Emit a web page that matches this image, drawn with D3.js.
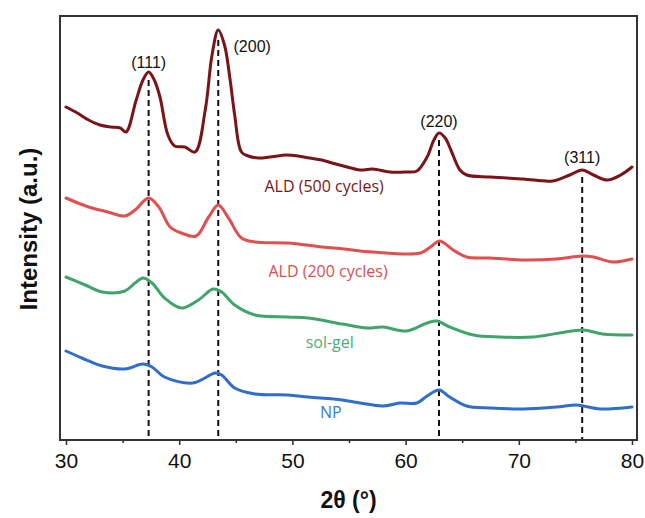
<!DOCTYPE html>
<html>
<head>
<meta charset="utf-8">
<script src="https://cdn.jsdelivr.net/npm/d3@7"></script>
<style>
  body { margin: 0; background: #fff; }
  text { font-family: "Liberation Sans", Arial, sans-serif; }
</style>
</head>
<body>
<div id="grafico"></div>
<script>
// 2θ (deg) / intensity (a.u., offset already included)
const ald500 = [
  [30, 333], [31, 327], [32, 320], [33, 315], [34, 313], [34.8, 312], [35.3, 308],
  [36.2, 340], [36.8, 360], [37.3, 368], [37.8, 360], [38.3, 343], [39.0, 305],
  [39.6, 294], [40.5, 293], [41.4, 288], [42.3, 330], [42.9, 385], [43.45, 410],
  [44.0, 395], [44.5, 360], [44.9, 325], [45.5, 288], [46.1, 284], [47.0, 282],
  [48.0, 283], [49.5, 285], [50.5, 284], [51.5, 282], [52.6, 280], [53.5, 277],
  [54.5, 274], [56, 270], [57.1, 271], [58.6, 268], [60, 268], [61, 269],
  [61.9, 283], [62.5, 300], [62.95, 307], [63.5, 302], [64, 290], [64.8, 270],
  [65.4, 265], [67.5, 263], [70.4, 261], [73, 259], [74.5, 265], [75.6, 270],
  [76.6, 265], [77.8, 260], [79, 265], [80, 273]
];
const ald200 = [
  [30, 242], [32, 233], [33.7, 228], [35.2, 224], [36.1, 230], [37.3, 242],
  [38.2, 233], [39.2, 213], [40.2, 207], [41.5, 204], [42.6, 223], [43.45, 235],
  [44.3, 223], [45.5, 202], [46.7, 198], [49.6, 197], [52.6, 193], [54.6, 191],
  [57.1, 188], [61.3, 187], [62.2, 193], [63.0, 199], [64.2, 190], [65.4, 183],
  [67.5, 182], [70.4, 180], [73.3, 181], [75.6, 184], [76.6, 183], [78.3, 178],
  [80, 181]
];
const solGel = [
  [30, 163], [31.7, 155], [33.2, 148], [35.2, 149], [36.1, 157], [36.8, 162],
  [37.6, 157], [38.7, 142], [40.2, 132], [41.7, 140], [43.0, 151], [43.75, 148],
  [44.9, 135], [46.7, 125], [49.6, 123], [51.4, 122], [54.4, 116], [56.6, 112],
  [58.0, 113], [60.1, 109], [61.9, 117], [62.75, 119], [63.9, 113], [66.0, 105],
  [68.3, 103], [71.3, 103], [73.6, 107], [75.7, 110], [77.4, 106], [80, 105]
];
const np = [
  [30, 89], [31.4, 82], [33.2, 74], [35.2, 71], [36.8, 76], [37.6, 73],
  [38.7, 63], [41.2, 57], [43.2, 67], [43.75, 65], [44.9, 52], [46.7, 46],
  [49.6, 45], [51.4, 43], [54.4, 40], [56.0, 37], [58.0, 34], [59.5, 37],
  [61.0, 37], [61.9, 44], [62.95, 50], [63.9, 43], [65.4, 34], [67.5, 32],
  [70.4, 31], [73.3, 33], [75.1, 35], [75.7, 34], [77.2, 31], [80, 33]
];

// reflexos (hkl)
const picosHkl = ["(111)", "(200)", "(220)", "(311)"];
const picosPos = [37.3, 43.45, 62.95, 75.6];
const picosTopo = [360, 400, 300, 263];
const rotuloHklX = [37.3, 46.45, 62.95, 75.6];
const rotuloHklY = [372, 388, 313, 277];

const nomesSeries = ["ALD (500 cycles)", "ALD (200 cycles)", "sol-gel", "NP"];
const rotuloSerieX = [52.8, 53.15, 53.3, 53.4];
const rotuloSerieY = [248, 163, 92, 22];
const coresLinha = ["#7a1418", "#e0504f", "#3fa56a", "#2f6ecb"];
const coresTexto = ["#7a1418", "#d9504f", "#4cae76", "#3b7bd0"];

const ticksX = [30, 40, 50, 60, 70, 80];
const ticksMenores = [35, 45, 55, 65, 75];

function desenhar() {
    var largura = 645, altura = 518;
    var esq = 60, dir = 637, topo = 16, base = 440;

    var svg = d3.select("#grafico").append("svg")
        .attr("width", largura)
        .attr("height", altura);

    var x = d3.scaleLinear().domain([30, 80]).range([66, 632]);
    var y = d3.scaleLinear().domain([0, 424]).range([base, topo]);

    // linhas tracejadas
    svg.selectAll(".tracejado")
        .data(picosPos)
        .enter().append("line")
        .attr("x1", d => x(d)).attr("x2", d => x(d))
        .attr("y1", (d, i) => y(picosTopo[i]))
        .attr("y2", base)
        .attr("stroke", "#111")
        .attr("stroke-width", 2)
        .attr("stroke-dasharray", "6,4");

    var linha = d3.line()
        .x(d => x(d[0]))
        .y(d => y(d[1]))
        .curve(d3.curveCatmullRom.alpha(0.5));

    var series = [ald500, ald200, solGel, np];
    svg.selectAll(".serie")
        .data(series)
        .enter().append("path")
        .attr("d", linha)
        .attr("fill", "none")
        .attr("stroke", (d, i) => coresLinha[i])
        .attr("stroke-width", 3)
        .attr("stroke-linejoin", "round")
        .attr("stroke-linecap", "round");

    // moldura
    svg.append("rect")
        .attr("x", esq).attr("y", topo)
        .attr("width", dir - esq).attr("height", base - topo)
        .attr("fill", "none")
        .attr("stroke", "#333")
        .attr("stroke-width", 2);

    // eixo x
    var eixo = svg.append("g")
        .attr("transform", "translate(0," + base + ")")
        .call(d3.axisBottom(x).tickValues(ticksX).tickSize(5).tickPadding(8));
    eixo.select(".domain").remove();
    eixo.selectAll("line").attr("stroke", "#333").attr("stroke-width", 1.6);
    eixo.selectAll("text")
        .attr("font-size", "21px")
        .attr("fill", "#111")
        .style("font-family", "'Liberation Sans', Arial, sans-serif");

    var menores = svg.append("g")
        .attr("transform", "translate(0," + base + ")")
        .call(d3.axisBottom(x).tickValues(ticksMenores).tickSize(3).tickFormat(""));
    menores.select(".domain").remove();
    menores.selectAll("line").attr("stroke", "#333").attr("stroke-width", 1.6);

    // rótulos hkl
    svg.selectAll(".hkl")
        .data(picosHkl)
        .enter().append("text")
        .attr("x", (d, i) => x(rotuloHklX[i]))
        .attr("y", (d, i) => y(rotuloHklY[i]))
        .attr("text-anchor", "middle")
        .attr("font-size", "16px")
        .attr("fill", "#111")
        .text(d => d);

    // rótulos das séries
    svg.selectAll(".nome")
        .data(nomesSeries)
        .enter().append("text")
        .attr("x", (d, i) => x(rotuloSerieX[i]))
        .attr("y", (d, i) => y(rotuloSerieY[i]))
        .attr("text-anchor", "middle")
        .attr("font-size", "16px")
        .style("font-family", "'Open Sans', sans-serif")
        .attr("fill", (d, i) => coresTexto[i])
        .text(d => d);

    // títulos dos eixos
    svg.append("text")
        .attr("x", (esq + dir) / 2)
        .attr("y", 508)
        .attr("text-anchor", "middle")
        .attr("font-size", "23px")
        .attr("font-weight", "bold")
        .attr("fill", "#111")
        .text("2θ (°)");

    svg.append("text")
        .attr("transform", "translate(37," + 229 + ") rotate(-90)")
        .attr("text-anchor", "middle")
        .attr("font-size", "24px")
        .attr("font-weight", "bold")
        .attr("fill", "#111")
        .text("Intensity (a.u.)");
}

desenhar();
</script>
</body>
</html>
